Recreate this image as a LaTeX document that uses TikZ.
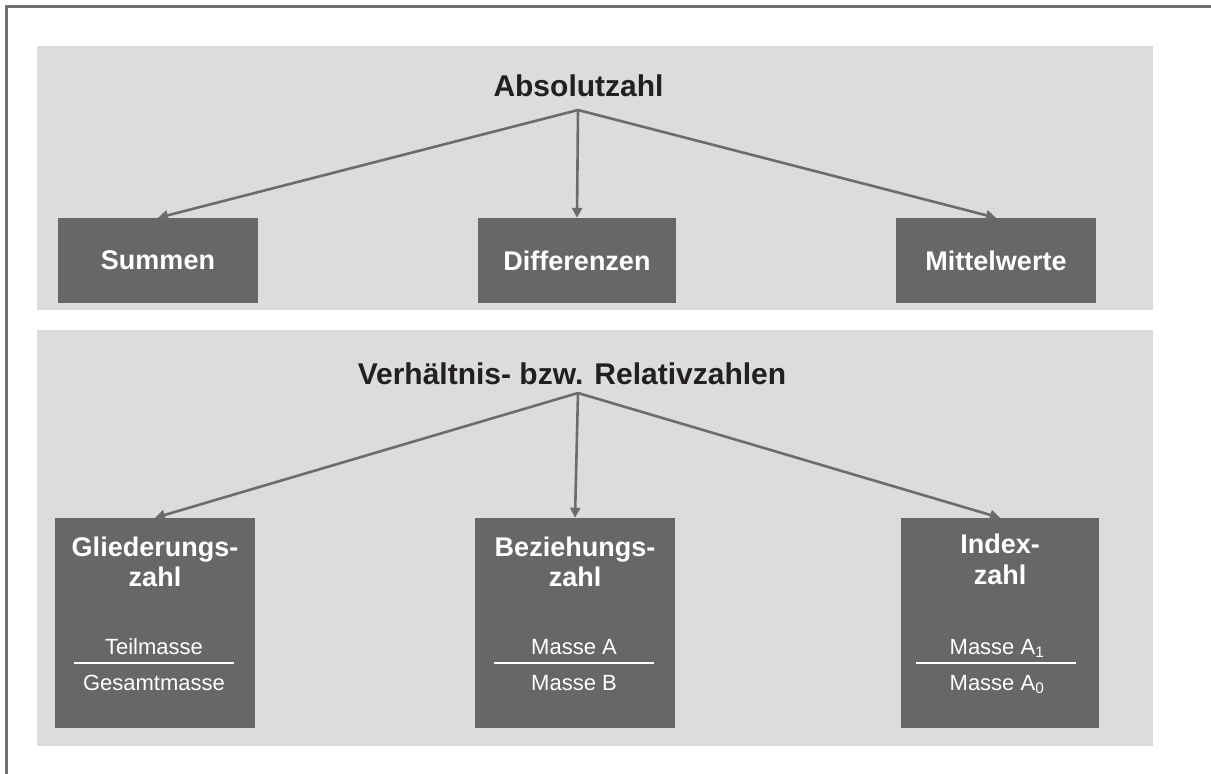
\documentclass[tikz,border=0pt]{standalone}
\usepackage{fontspec}
\setmainfont{Liberation Sans}
\usetikzlibrary{arrows.meta}

\definecolor{panelgray}{HTML}{DBDCDE}
\definecolor{boxgray}{HTML}{666769}
\definecolor{linegray}{HTML}{6B6C6E}
\definecolor{framegray}{HTML}{707070}
\definecolor{titleblack}{HTML}{231F20}

\tikzset{
  panel/.style={rectangle, fill=panelgray, draw=none, inner sep=0pt},
  catbox/.style={rectangle, fill=boxgray, draw=none, inner sep=0pt,
    text=white, font=\fontsize{27}{31}\selectfont\bfseries},
  heading/.style={inner sep=0pt, text=titleblack,
    font=\fontsize{30}{36}\selectfont\bfseries},
  boxline/.style={inner sep=0pt, text=white,
    font=\fontsize{27}{31}\selectfont\bfseries},
  fractext/.style={inner sep=0pt, text=white,
    font=\fontsize{22}{26}\selectfont},
  fracbar/.style={draw=white, line width=2.6pt},
  conn/.style={draw=linegray, line width=2.6pt,
    -{Triangle[length=10pt,width=10pt]}},
}

\begin{document}
\begin{tikzpicture}[x=1pt, y=-1pt]
  \useasboundingbox (0,0) rectangle (1211,774);

  % outer frame (top and left edges)
  \draw[framegray, line width=2.5pt] (1211,6.5) -- (6.5,6.5) -- (6.5,774);

  % background panels
  \node[panel, minimum width=1116pt, minimum height=264pt] (panelA) at (595,178) {};
  \node[panel, minimum width=1116pt, minimum height=416pt] (panelB) at (595,538) {};

  % --- absolute numbers ---
  \node[heading, anchor=base] (abs) at (578.5,96.5) {Absolutzahl};
  \coordinate (apexA) at (578,110);

  \node[catbox, minimum width=200pt, minimum height=85pt] (summen) at (158,260.5) {Summen};
  \node[catbox, minimum width=198pt, minimum height=85pt] (diff) at (577,260.5) {Differenzen};
  \node[catbox, minimum width=200pt, minimum height=85pt] (mittel) at (996,260.5) {Mittelwerte};

  \draw[conn] (apexA) -- (summen.north);
  \draw[conn] (apexA) -- (diff.north);
  \draw[conn] (apexA) -- (mittel.north);

  % --- ratios ---
  \node[heading, anchor=base] (rel) at (572,384) {Verhältnis- bzw. Relativzahlen};
  \coordinate (apexB) at (578,393);

  \node[catbox, minimum width=200pt, minimum height=210pt] (glied) at (155,623) {};
  \node[catbox, minimum width=200pt, minimum height=210pt] (bez) at (575,623) {};
  \node[catbox, minimum width=198pt, minimum height=210pt] (index) at (1000,623) {};

  \draw[conn] (apexB) -- (glied.north);
  \draw[conn] (apexB) -- (bez.north);
  \draw[conn] (apexB) -- (index.north);

  % box headings
  \node[boxline, anchor=base] (gliedA) at (155,556) {Gliederungs-};
  \node[boxline, anchor=base] (gliedB) at (155,586) {zahl};
  \node[boxline, anchor=base] (bezA) at (575,556) {Beziehungs-};
  \node[boxline, anchor=base] (bezB) at (575,586) {zahl};
  \node[boxline, anchor=base] (indexA) at (1000,553) {Index-};
  \node[boxline, anchor=base] (indexB) at (1000,584) {zahl};

  % fractions
  \node[fractext, anchor=base] (gliedN) at (154,654) {Teilmasse};
  \draw[fracbar] (74,663) -- (234,663);
  \node[fractext, anchor=base] (gliedD) at (154,690) {Gesamtmasse};

  \node[fractext, anchor=base] (bezN) at (574,654) {Masse A};
  \draw[fracbar] (494,663) -- (654,663);
  \node[fractext, anchor=base] (bezD) at (574,690) {Masse B};

  \node[fractext, anchor=base] (indexN) at (997,654) {Masse A\textsubscript{1}};
  \draw[fracbar] (916,663) -- (1076,663);
  \node[fractext, anchor=base] (indexD) at (997,690) {Masse A\textsubscript{0}};
\end{tikzpicture}
\end{document}
